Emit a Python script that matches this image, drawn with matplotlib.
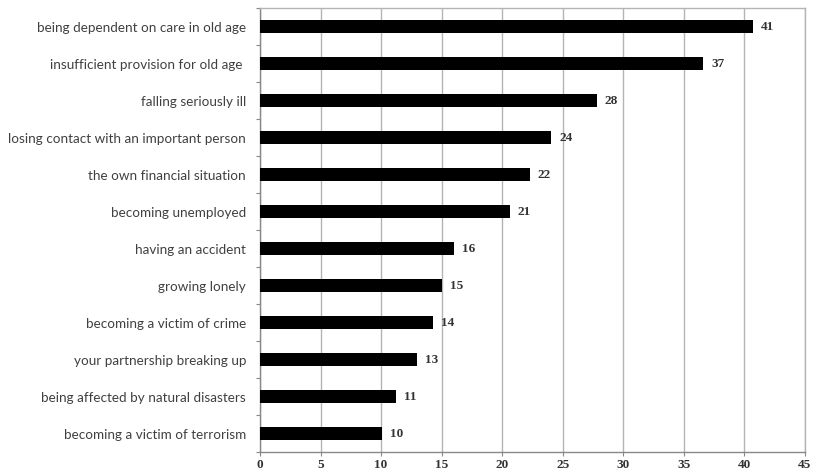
import numpy as np
import matplotlib
matplotlib.use('Agg')
import matplotlib.pyplot as plt

# categories from top to bottom, with bar lengths
categories = ['being dependent on care in old age',
              'insufficient provision for old age ',
              'falling seriously ill',
              'losing contact with an important person',
              'the own financial situation',
              'becoming unemployed',
              'having an accident',
              'growing lonely',
              'becoming a victim of crime',
              'your partnership breaking up',
              'being affected by natural disasters',
              'becoming a victim of terrorism']
values = [40.7, 36.6, 27.8, 24.05, 22.3, 20.65, 16.0, 15.0, 14.3, 13.0, 11.2, 10.1]
value_labels = ['41', '37', '28', '24', '22', '21', '16', '15', '14', '13', '11', '10']
xticks = [0, 5, 10, 15, 20, 25, 30, 35, 40, 45]

grid_col = '#b4b4b4'
num_font = dict(family='Liberation Serif', weight='bold', color='#333333')

fig = plt.figure(figsize=(8.13, 4.73), dpi=100)
ax = fig.add_axes([260/813, 1-452/473, (805-260)/813, (452-8)/473])

n = len(categories)
ypos = np.arange(n)[::-1]
ax.barh(ypos, values, height=0.36, color='black', zorder=3)

for y, v, lab in zip(ypos, values, value_labels):
    ax.text(v + 0.65, y, lab, va='center', ha='left', fontsize=9.5, **num_font)

ax.set_xlim(0, 45)
ax.set_ylim(-0.5, n - 0.5)
ax.set_xticks(xticks)
ax.set_xticklabels([str(t) for t in xticks], fontsize=9.5, **num_font)
ax.xaxis.grid(True, color=grid_col, linewidth=1.0, zorder=0)

# category labels on major ticks (hidden), boundary ticks as minor
ax.set_yticks(ypos)
ax.set_yticklabels(categories, family='Lato', fontsize=9.7, color='#404040')
ax.tick_params(axis='y', which='major', length=0, pad=10)
ax.set_yticks(np.arange(-0.5, n, 1.0), minor=True)
ax.tick_params(axis='y', which='minor', length=3, color='#888888', width=0.8)
ax.tick_params(axis='x', length=3, color='#888888', width=0.8, pad=2)

for s in ax.spines.values():
    s.set_color(grid_col)
    s.set_linewidth(1.0)
ax.spines['left'].set_color('#888888')
ax.spines['bottom'].set_color('#888888')

plt.savefig('out.png', dpi=100)
